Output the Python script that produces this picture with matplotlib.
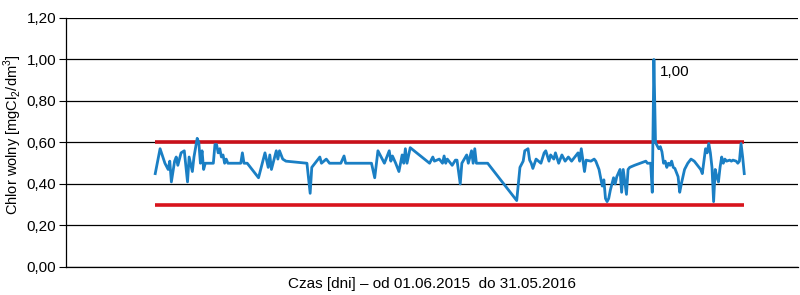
"""
Free chlorine over one year (01.06.2015 - 31.05.2016) with limit lines.
Outputs: out.png
"""

import matplotlib

matplotlib.use("Agg")
import matplotlib.pyplot as plt

# day index (0 = 01.06.2015) and measured free chlorine [mgCl2/dm3]
days = [
    0, 3, 6, 8, 9, 10, 12, 13, 14, 16, 18, 20, 21, 23, 24, 26, 27, 28, 29, 30,
    31, 36, 37, 38, 39, 40, 41, 42, 43, 44, 45, 53, 54, 55, 57, 59, 64, 68, 70, 71,
    72, 74, 75, 76, 77, 79, 81, 94, 96, 97, 99, 102, 103, 106, 108, 115, 117, 118, 134, 136,
    138, 140, 142, 145, 146, 147, 149, 151, 153, 154, 155, 156, 158, 170, 172, 173, 176, 178, 179, 180,
    181, 184, 186, 187, 189, 190, 193, 194, 196, 197, 198, 199, 206, 224, 226, 228, 229, 231, 232, 233,
    234, 236, 239, 241, 242, 244, 245, 247, 248, 250, 252, 254, 256, 258, 260, 262, 263, 264, 265, 266,
    267, 270, 272, 273, 275, 277, 278, 279, 280, 281, 282, 284, 285, 286, 288, 289, 290, 292, 293, 294,
    297, 304, 305, 307, 308, 309, 310, 312, 313, 314, 315, 316, 317, 318, 319, 320, 321, 322, 324, 325,
    326, 328, 330, 332, 334, 336, 338, 339, 341, 342, 343, 344, 345, 346, 347, 348, 349, 350, 351, 352,
    353, 354, 356, 357, 358, 360, 361, 362, 363, 364, 365,
]
chlorine = [
    0.45, 0.57, 0.50, 0.47, 0.51, 0.41, 0.51, 0.53, 0.49, 0.55, 0.56, 0.41, 0.53, 0.46, 0.53, 0.62, 0.60, 0.50, 0.56, 0.47,
    0.50, 0.50, 0.59, 0.59, 0.55, 0.57, 0.53, 0.54, 0.50, 0.52, 0.50, 0.50, 0.55, 0.50, 0.50, 0.48, 0.43, 0.55, 0.48, 0.54,
    0.47, 0.53, 0.56, 0.52, 0.56, 0.52, 0.51, 0.50, 0.355, 0.48, 0.50, 0.53, 0.50, 0.52, 0.50, 0.50, 0.535, 0.50, 0.50, 0.43,
    0.56, 0.53, 0.50, 0.56, 0.51, 0.535, 0.50, 0.46, 0.54, 0.50, 0.57, 0.50, 0.575, 0.50, 0.53, 0.51, 0.52, 0.50, 0.535, 0.50,
    0.52, 0.49, 0.515, 0.515, 0.40, 0.50, 0.54, 0.50, 0.56, 0.50, 0.57, 0.50, 0.50, 0.32, 0.48, 0.51, 0.56, 0.57, 0.515, 0.50,
    0.475, 0.52, 0.50, 0.55, 0.56, 0.51, 0.54, 0.52, 0.55, 0.50, 0.54, 0.51, 0.53, 0.51, 0.53, 0.55, 0.51, 0.57, 0.515, 0.46,
    0.515, 0.51, 0.52, 0.51, 0.47, 0.39, 0.42, 0.33, 0.315, 0.33, 0.37, 0.43, 0.40, 0.435, 0.47, 0.36, 0.47, 0.35, 0.47, 0.48,
    0.49, 0.51, 0.50, 0.50, 0.36, 1.00, 0.60, 0.57, 0.58, 0.555, 0.50, 0.51, 0.48, 0.50, 0.49, 0.51, 0.48, 0.475, 0.435, 0.36,
    0.40, 0.47, 0.50, 0.52, 0.51, 0.49, 0.47, 0.45, 0.57, 0.55, 0.595, 0.55, 0.48, 0.315, 0.47, 0.435, 0.41, 0.48, 0.53, 0.50,
    0.52, 0.51, 0.515, 0.51, 0.515, 0.51, 0.50, 0.51, 0.595, 0.53, 0.45,
]

upper_limit = 0.60
lower_limit = 0.30
period = (0, 365)
peak_label = "1,00"
y_ticks = [0.0, 0.2, 0.4, 0.6, 0.8, 1.0, 1.2]
y_tick_labels = ["0,00", "0,20", "0,40", "0,60", "0,80", "1,00", "1,20"]

FONT = ["Liberation Sans", "DejaVu Sans"]


def main():
    plt.rcParams["font.family"] = FONT
    plt.rcParams["mathtext.fontset"] = "custom"
    plt.rcParams["mathtext.rm"] = "Liberation Sans"
    fig = plt.figure(figsize=(8, 2.95), dpi=100)
    ax = fig.add_axes([0.0825, 0.095, 0.915, 0.844])

    # gridlines under the data
    for v in y_ticks:
        ax.axhline(v, color="black", lw=0.9, zorder=1)

    ax.plot(period, [upper_limit, upper_limit], color="#c8101a", lw=2.6, zorder=2,
            solid_capstyle="butt")
    ax.plot(period, [lower_limit, lower_limit], color="#d8141c", lw=2.6, zorder=2,
            solid_capstyle="butt")
    ax.plot(days, chlorine, color="#1a7fc4", lw=2.0, zorder=3)

    peak_i = chlorine.index(max(chlorine))
    ax.annotate(peak_label, (days[peak_i], chlorine[peak_i]), xytext=(4, -9),
                textcoords="offset points", fontsize=11, ha="left", va="center")

    ax.set_xlim(-55.3, 398.3)
    ax.set_ylim(0, 1.2)
    ax.set_xticks([])
    ax.set_yticks(y_ticks)
    ax.set_yticklabels(y_tick_labels, fontsize=11)
    ax.tick_params(axis="y", length=5, width=0.8, pad=2)
    for side in ("top", "right"):
        ax.spines[side].set_visible(False)
    ax.spines["left"].set_linewidth(0.9)
    ax.spines["bottom"].set_linewidth(0.9)

    ax.set_ylabel(r"Chlor wolny [mgCl$_2$/dm$^3$]", fontsize=10.5)
    ax.yaxis.set_label_coords(-0.058, 0.53)
    ax.set_xlabel("Czas [dni] \u2013 od 01.06.2015  do 31.05.2016", fontsize=11,
                  labelpad=7)

    fig.savefig("out.png", dpi=100)


if __name__ == "__main__":
    main()
